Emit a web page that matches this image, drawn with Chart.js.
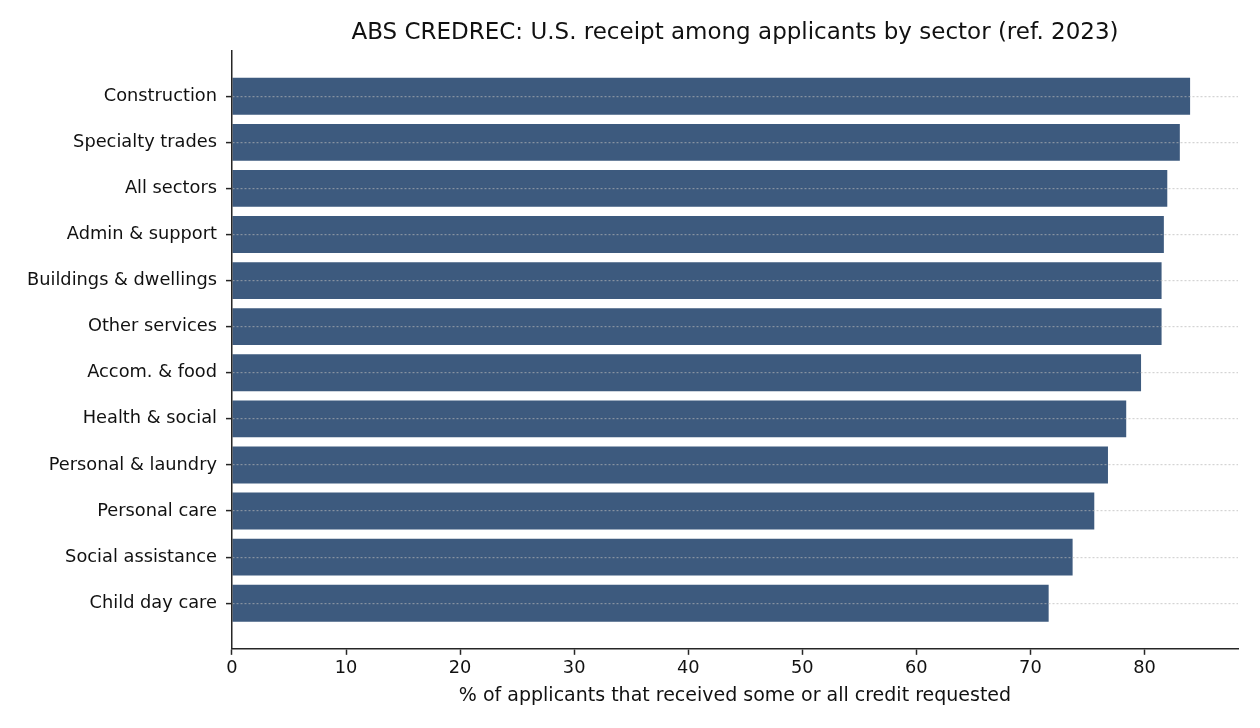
<!DOCTYPE html>
<html>
<head>
<meta charset="utf-8">
<script src="https://cdn.jsdelivr.net/npm/chart.js@4/dist/chart.umd.min.js"></script>
<style>
  html, body { margin: 0; padding: 0; background: #fff; }
  #wrap { width: 1260px; height: 728px; }
</style>
</head>
<body>
<div id="wrap"><canvas id="sectorChart" width="1260" height="728"></canvas></div>
<script>
// sectors, top to bottom
const sectors = [
    'Construction',
    'Specialty trades',
    'All sectors',
    'Admin & support',
    'Buildings & dwellings',
    'Other services',
    'Accom. & food',
    'Health & social',
    'Personal & laundry',
    'Personal care',
    'Social assistance',
    'Child day care'
];

// % of applicants that received some or all credit requested
const receiptPct = [84.0, 83.1, 82.0, 81.7, 81.5, 81.5, 79.7, 78.4, 76.8, 75.6, 73.7, 71.6];

const xTicks = [0, 10, 20, 30, 40, 50, 60, 70, 80];

const FONT = "'DejaVu Sans', sans-serif";
const DARK = '#262626';

// centre the title over the plot area, not the whole canvas
const titleOverPlot = {
    id: 'titleOverPlot',
    afterLayout(chart) {
        if (chart.titleBlock) {
            chart.titleBlock.left = chart.chartArea.left;
            chart.titleBlock.right = chart.chartArea.right;
        }
    }
};

document.addEventListener('DOMContentLoaded', () => {
    const ctx = document.querySelector('#sectorChart').getContext('2d');

    new Chart(ctx, {
        type: 'bar',
        data: {
            datasets: [{
                label: 'Receipt among applicants',
                data: receiptPct.map((v, i) => ({ x: v, y: i })),
                backgroundColor: '#3d5a7e',
                borderWidth: 0,
                categoryPercentage: 1,
                barPercentage: 0.8
            }]
        },
        plugins: [titleOverPlot],
        options: {
            indexAxis: 'y',
            responsive: false,
            animation: false,
            layout: { padding: { left: 18, right: 22, top: 0, bottom: 17 } },
            plugins: {
                legend: { display: false },
                tooltip: { enabled: false },
                title: {
                    display: true,
                    text: 'ABS CREDREC: U.S. receipt among applicants by sector (ref. 2023)',
                    color: '#111',
                    font: { family: FONT, size: 23, weight: 'normal' },
                    padding: { top: 19, bottom: 4 }
                }
            },
            scales: {
                x: {
                    type: 'linear',
                    min: 0,
                    max: Math.max(...receiptPct) * 1.05,
                    afterBuildTicks: (scale) => { scale.ticks = xTicks.map(v => ({ value: v })); },
                    ticks: { color: '#111', font: { family: FONT, size: 17.8 }, padding: 3 },
                    grid: { drawOnChartArea: false, drawTicks: true, tickLength: 6, tickColor: DARK, tickWidth: 1.5 },
                    border: { display: true, color: DARK, width: 1.5 },
                    title: {
                        display: true,
                        text: '% of applicants that received some or all credit requested',
                        color: '#111',
                        font: { family: FONT, size: 19 },
                        padding: { top: 2, bottom: 4 }
                    }
                },
                y: {
                    type: 'linear',
                    reverse: true,
                    offset: false,
                    min: -0.99,
                    max: 11.99,
                    afterBuildTicks: (scale) => { scale.ticks = sectors.map((_, i) => ({ value: i })); },
                    ticks: {
                        color: '#111',
                        font: { family: FONT, size: 17.8 },
                        padding: 9,
                        callback: (v) => sectors[v]
                    },
                    grid: {
                        z: 1,
                        offset: false,
                        color: 'rgba(183,183,183,0.6)',
                        lineWidth: 1.2,
                        drawTicks: true,
                        tickLength: 6,
                        tickColor: DARK,
                        tickWidth: 1.5,
                        tickBorderDash: []
                    },
                    border: { z: 2, display: true, color: DARK, width: 1.5, dash: [2, 2] }
                }
            }
        }
    });
});
</script>
</body>
</html>
